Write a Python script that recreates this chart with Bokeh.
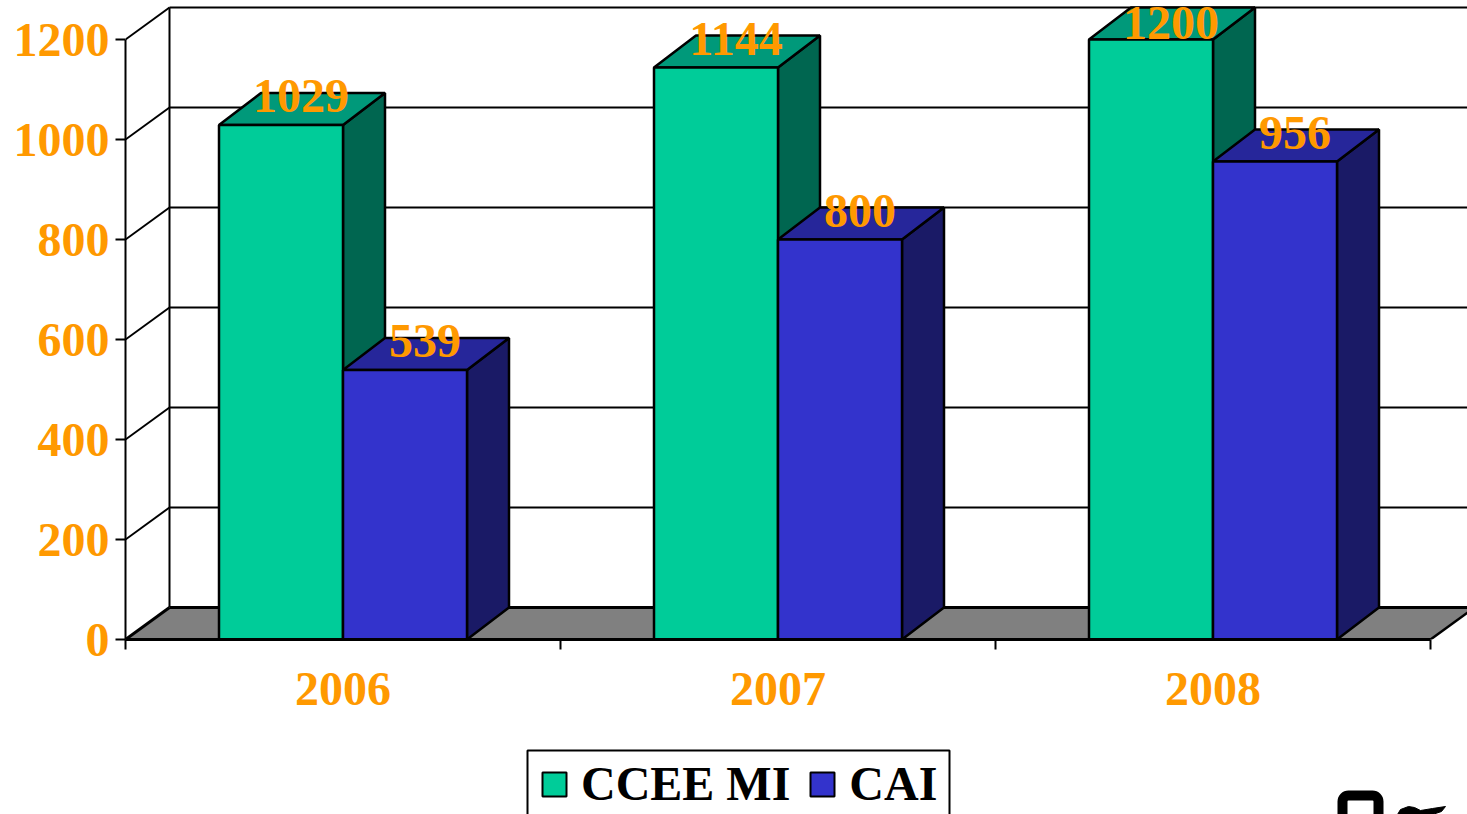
from bokeh.plotting import figure
from bokeh.embed import file_html
from bokeh.resources import INLINE
from bokeh.core.properties import value
from bokeh.layouts import column
from bokeh.models import FixedTicker, Legend, LegendItem, BoxAnnotation

categories = ["2006", "2007", "2008"]
ccee_mi = [1029, 1144, 1200]
cai = [539, 800, 956]
y_ticks = [0, 200, 400, 600, 800, 1000, 1200]

GREEN = ("#00CC99", "#006650", "#00997A")
BLUE = ("#3333CC", "#1A1A66", "#26269A")
ORANGE = "#FF9900"
SERIF = "Liberation Serif"

frame_left = 125
px_x = 435.0             # pixels per category
bar_w = 124 / px_x
bar_dx = 42 / px_x       # receding depth of a bar, x units
bar_dy = 64              # receding depth of a bar, y units
wall_dx = 44 / px_x
wall_dy = 64
x_max = (1467 - frame_left) / px_x
y_max = 1278
chart_h = 730

p = figure(width=1467, height=chart_h, x_range=(0, x_max), y_range=(0, y_max),
           output_backend="svg", toolbar_location=None,
           min_border_left=frame_left, min_border_right=0, min_border_top=0,
           min_border_bottom=chart_h - 639)
p.grid.visible = False
p.outline_line_color = None
p.background_fill_color = "white"

# Axes
xa = p.xaxis[0]
xa.ticker = FixedTicker(ticks=[0.5, 1.5, 2.5], minor_ticks=[0, 1, 2, 3])
xa.major_label_overrides = {i + 0.5: c for i, c in enumerate(categories)}
xa.bounds = (0, 3)
xa.major_tick_line_color = None
xa.major_tick_out = 0
xa.major_tick_in = 0
xa.minor_tick_out = 10
xa.minor_tick_in = 0
xa.minor_tick_line_width = 2
xa.minor_tick_line_color = "black"
xa.axis_line_width = 3
xa.axis_line_color = "black"
xa.major_label_standoff = 23
ya = p.yaxis[0]
ya.ticker = FixedTicker(ticks=y_ticks)
ya.bounds = (0, 1200)
ya.major_tick_out = 10
ya.major_tick_in = 0
ya.minor_tick_line_color = None
ya.major_tick_line_width = 2
ya.major_tick_line_color = "black"
ya.axis_line_width = 2
ya.axis_line_color = "black"
ya.major_label_standoff = 6
for ax in (xa, ya):
    ax.major_label_text_font = SERIF
    ax.major_label_text_font_style = "bold"
    ax.major_label_text_font_size = "48px"
    ax.major_label_text_color = ORANGE
    ax.major_label_orientation = "horizontal"

# Floor of the 3D box
p.patch([0, wall_dx, 3 + wall_dx, 3], [0, wall_dy, wall_dy, 0], fill_color="#808080", line_color=None)
p.segment([wall_dx], [wall_dy], [3 + wall_dx], [wall_dy], line_color="black", line_width=3)
p.segment([0], [0], [wall_dx], [wall_dy], line_color="black", line_width=3)
p.segment([3], [0], [3 + wall_dx], [wall_dy], line_color="black", line_width=2.5)

# Back wall: gridlines, their slanted returns, and the rear vertical edge
p.segment([wall_dx] * len(y_ticks[1:]), [t + wall_dy for t in y_ticks[1:]],
          [3 + wall_dx] * len(y_ticks[1:]), [t + wall_dy for t in y_ticks[1:]],
          line_color="black", line_width=2)
p.segment([0] * len(y_ticks[1:]), y_ticks[1:],
          [wall_dx] * len(y_ticks[1:]), [t + wall_dy for t in y_ticks[1:]],
          line_color="black", line_width=2)
p.segment([wall_dx], [wall_dy], [wall_dx], [1200 + wall_dy], line_color="black", line_width=2)


def draw_series(values, colors, shift):
    lefts = [i + 0.5 + shift * bar_w for i in range(len(values))]
    rights = [x + bar_w for x in lefts]
    side_xs = [[r, r + bar_dx, r + bar_dx, r] for r in rights]
    side_ys = [[0, bar_dy, v + bar_dy, v] for v in values]
    top_xs = [[l, l + bar_dx, r + bar_dx, r] for l, r in zip(lefts, rights)]
    top_ys = [[v, v + bar_dy, v + bar_dy, v] for v in values]
    p.patches(side_xs, side_ys, fill_color=colors[1], line_color="black", line_width=2.5)
    p.patches(top_xs, top_ys, fill_color=colors[2], line_color="black", line_width=2.5)
    p.quad(left=lefts, right=rights, bottom=0, top=values,
           fill_color=colors[0], line_color="black", line_width=2.5)


draw_series(ccee_mi, GREEN, -1)
draw_series(cai, BLUE, 0)

# Value labels sit over the top face; the tallest is held inside the box
for vals, shift in ((ccee_mi, -0.5), (cai, 0.5)):
    p.text([i + 0.5 + shift * bar_w + bar_dx / 2 for i in range(3)],
           [min(v + 58, 1234) for v in vals],
           text=[str(v) for v in vals], x_offset=-1,
           text_font=value(SERIF), text_font_style="bold", text_font_size="48px",
           text_color=ORANGE, text_align="center", text_baseline="middle")

# Lower strip in page pixels: the legend box and the logo fragment, both running off the page.
# The column lines its frame up with the chart's frame, so its x range starts at frame_left.
strip = figure(width=1467, height=814 - chart_h, x_range=(frame_left, 1467), y_range=(814, chart_h),
               output_backend="svg", toolbar_location=None,
               x_axis_location=None, y_axis_location=None,
               min_border_left=frame_left, min_border_right=0, min_border_top=0, min_border_bottom=0)
strip.grid.visible = False
strip.outline_line_color = None

# Keys for the legend; their quads have no extent and lie above the strip's range
key_a = strip.quad(left=[0], right=[0], bottom=[0], top=[0], fill_color=GREEN[0], line_color="black", line_width=2)
key_b = strip.quad(left=[0], right=[0], bottom=[0], top=[0], fill_color=BLUE[0], line_color="black", line_width=2)
legend = Legend(items=[LegendItem(label="CCEE MI", renderers=[key_a]),
                       LegendItem(label="CAI", renderers=[key_b])],
                orientation="horizontal", location=(414, 3), margin=0, padding=14,
                spacing=17, label_standoff=12, glyph_width=30, glyph_height=30,
                label_text_font=SERIF, label_text_font_style="bold", label_text_font_size="48px",
                label_text_color="black", border_line_color=None,
                background_fill_alpha=0)
strip.add_layout(legend, "center")
strip.add_layout(BoxAnnotation(left=527, right=949, top=750, bottom=840,
                               fill_alpha=0, line_color="black", line_width=2, line_alpha=1))

strip.add_layout(BoxAnnotation(left=1342, right=1378, top=795, bottom=840,
                               fill_alpha=0, line_color="black", line_width=10, line_alpha=1,
                               border_radius=6))
strip.patch([1397, 1400, 1408, 1414, 1420, 1432, 1445, 1441, 1432],
            [814, 809, 806, 807, 810, 808, 806, 811, 814],
            fill_color="black", line_color="black")

open("out.html", "w").write(file_html(column(p, strip, spacing=0), INLINE))
